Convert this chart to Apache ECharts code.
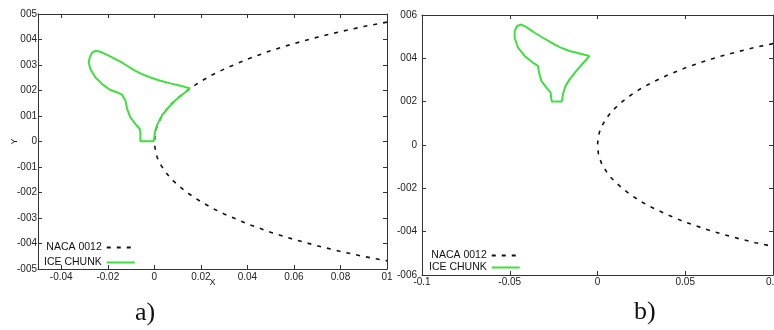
<!DOCTYPE html>
<html><head><meta charset="utf-8">
<script src="https://cdn.jsdelivr.net/npm/echarts@6/dist/echarts.min.js"></script>
<style>html,body{margin:0;padding:0;background:#fff}#c{width:774px;height:330px}</style>
</head><body><div id="c"></div>
<script>
// ---- data ----
const seriesNames = ['NACA 0012', 'ICE CHUNK'];
const panelLabels = ['a)', 'b)'];

// NACA 0012 leading-edge region (upper surface, trailing side -> nose)
const nacaUpperX = [0.1, 0.09, 0.08, 0.07, 0.06, 0.05, 0.04, 0.03, 0.025, 0.02, 0.015, 0.01, 0.0075, 0.005, 0.0025, 0.00125, 0.0005, 0];
const nacaUpperY = [0.0468, 0.0451, 0.0431, 0.0409, 0.0384, 0.0356, 0.0323, 0.0284, 0.0262, 0.0236, 0.0206, 0.0170, 0.0149, 0.0122, 0.0088, 0.0063, 0.0040, 0];
// lower surface, nose -> trailing side
const nacaLowerX = [0, 0.0005, 0.00125, 0.0025, 0.005, 0.0075, 0.01, 0.015, 0.02, 0.025, 0.03, 0.04, 0.05, 0.06, 0.07, 0.08, 0.09, 0.1];
const nacaLowerY = [0, -0.0040, -0.0063, -0.0088, -0.0122, -0.0149, -0.0170, -0.0206, -0.0236, -0.0262, -0.0284, -0.0323, -0.0356, -0.0384, -0.0409, -0.0431, -0.0451, -0.0468];

// ice chunk outline, panel a (attached)
const iceAX = [0.0154, 0.0112, 0.0069, 0.0026, -0.0017, -0.0053, -0.0089, -0.0117, -0.0146, -0.0175, -0.0203, -0.0232, -0.0253, -0.0267, -0.0278, -0.0282, -0.0275, -0.0253, -0.0224, -0.0189, -0.0160, -0.0139, -0.0124, -0.0117, -0.0103, -0.0082, -0.0063, -0.0060, -0.0060, -0.0031, -0.0003, 0.0000, 0.0004, 0.0014, 0.0033, 0.0061, 0.0097, 0.0133, 0.0154];
const iceAY = [0.0208, 0.0219, 0.0228, 0.0238, 0.0251, 0.0264, 0.0281, 0.0297, 0.0313, 0.0327, 0.0340, 0.0352, 0.0356, 0.0349, 0.0329, 0.0310, 0.0284, 0.0251, 0.0225, 0.0202, 0.0193, 0.0184, 0.0160, 0.0128, 0.0095, 0.0069, 0.0050, 0.0030, 0.0001, 0.0001, 0.0001, 0.0017, 0.0043, 0.0069, 0.0102, 0.0134, 0.0167, 0.0193, 0.0208];
// ice chunk outline, panel b (detached)
const iceBX = [-0.0045, -0.0102, -0.0159, -0.0216, -0.0263, -0.0311, -0.0358, -0.0405, -0.0434, -0.0458, -0.0472, -0.0472, -0.0453, -0.0415, -0.0368, -0.0339, -0.0333, -0.0320, -0.0291, -0.0267, -0.0263, -0.0260, -0.0203, -0.0197, -0.0182, -0.0159, -0.0121, -0.0084, -0.0045];
const iceBY = [0.0411, 0.0422, 0.0434, 0.0452, 0.0472, 0.0495, 0.0518, 0.0544, 0.0556, 0.0549, 0.0526, 0.0495, 0.0449, 0.0411, 0.0380, 0.0365, 0.0334, 0.0296, 0.0265, 0.0242, 0.0211, 0.0201, 0.0201, 0.0234, 0.0273, 0.0303, 0.0342, 0.0376, 0.0411];

// tick values and their printed labels
const xTicksA = [-0.04, -0.02, 0, 0.02, 0.04, 0.06, 0.08, 0.1];
const xTickLabelsA = ['-0.04', '-0.02', '0', '0.02', '0.04', '0.06', '0.08', '01'];
const yTicksA = [-0.05, -0.04, -0.03, -0.02, -0.01, 0, 0.01, 0.02, 0.03, 0.04, 0.05];
const yTickLabelsA = ['-005', '-004', '-003', '-002', '-001', '0', '001', '002', '003', '004', '005'];
const xTicksB = [-0.1, -0.05, 0, 0.05, 0.1];
const xTickLabelsB = ['-0.1', '-0.05', '0', '0.05', '0.1'];
const yTicksB = [-0.06, -0.04, -0.02, 0, 0.02, 0.04, 0.06];
const yTickLabelsB = ['-006', '-004', '-002', '0', '002', '004', '006'];

// ---- build ----
function pairs(xs, ys) { return xs.map((x, i) => [x, ys[i]]); }
function lookup(ticks, labels) {
  return function (v) {
    let best = -1, bd = 1e9;
    ticks.forEach((t, i) => { const d = Math.abs(t - v); if (d < bd) { bd = d; best = i; } });
    return bd < 1e-6 ? labels[best] : '';
  };
}
const FONT = 'Liberation Sans';
const AX = '#333';
const GREEN = '#3fdf3f';
function axis(o) {
  const base = {
    type: 'value', scale: false,
    axisLine: { show: true, onZero: false, lineStyle: { color: AX, width: 1 } },
    splitLine: { show: false },
    axisTick: { show: true, inside: true, length: 4, lineStyle: { color: AX, width: 1 } },
    axisLabel: { show: false },
    axisPointer: { show: false }
  };
  return Object.assign(base, o);
}
const nacaData = pairs(nacaUpperX, nacaUpperY).concat(pairs(nacaLowerX, nacaLowerY));
const lbl = (fmt, margin, extra) => Object.assign({ show: true, formatter: fmt, margin: margin, color: '#222', fontSize: 10, fontFamily: FONT, hideOverlap: false, showMinLabel: true, showMaxLabel: true }, extra || {});
const legendBase = { orient: 'vertical', align: 'right', itemWidth: 28, itemHeight: 10, padding: 0,
  selectedMode: false, data: seriesNames, itemStyle: { opacity: 0, borderWidth: 0 },
  textStyle: { fontSize: 10.5, fontFamily: FONT, color: '#111' } };

const option = {
  animation: false,
  backgroundColor: '#fff',
  grid: [
    { left: 38, top: 14, width: 349, height: 255, containLabel: false, outerBoundsMode: 'none', show: false },
    { left: 422, top: 15, width: 351, height: 260, containLabel: false, outerBoundsMode: 'none', show: false }
  ],
  xAxis: [
    axis({ gridIndex: 0, position: 'bottom', min: -0.05, max: 0.1,
      axisTick: { show: true, inside: true, length: 4, customValues: xTicksA, lineStyle: { color: AX } },
      axisLabel: lbl(lookup(xTicksA, xTickLabelsA), 3, { customValues: xTicksA }),
      name: 'X', nameLocation: 'middle', nameGap: 9, nameMoveOverlap: false,
      nameTextStyle: { fontSize: 9, fontFamily: FONT, color: '#222' } }),
    axis({ gridIndex: 0, position: 'top', min: -0.05, max: 0.1,
      axisTick: { show: true, inside: true, length: 4, customValues: xTicksA, lineStyle: { color: AX } } }),
    axis({ gridIndex: 1, position: 'bottom', min: -0.1, max: 0.1, interval: 0.05,
      axisLabel: lbl(lookup(xTicksB, xTickLabelsB), 2) }),
    axis({ gridIndex: 1, position: 'top', min: -0.1, max: 0.1, interval: 0.05 })
  ],
  yAxis: [
    axis({ gridIndex: 0, position: 'left', min: -0.05, max: 0.05, interval: 0.01,
      axisLabel: lbl(lookup(yTicksA, yTickLabelsA), 1),
      name: 'Y', nameLocation: 'middle', nameRotate: 90, nameGap: 19, nameMoveOverlap: false,
      nameTextStyle: { fontSize: 9, fontFamily: FONT, color: '#222' } }),
    axis({ gridIndex: 0, position: 'right', min: -0.05, max: 0.05, interval: 0.01 }),
    axis({ gridIndex: 1, position: 'left', min: -0.06, max: 0.06, interval: 0.02,
      axisLabel: lbl(lookup(yTicksB, yTickLabelsB), 5) }),
    axis({ gridIndex: 1, position: 'right', min: -0.06, max: 0.06, interval: 0.02 })
  ],
  legend: [
    Object.assign({}, legendBase, { left: 44, top: 242, itemGap: 4 }),
    Object.assign({}, legendBase, { left: 429, top: 250, itemGap: 1 })
  ],
  graphic: [
    { type: 'text', left: 135, top: 300, style: { text: panelLabels[0], font: '26px "Liberation Serif"', fill: '#111' } },
    { type: 'text', left: 634, top: 299, style: { text: panelLabels[1], font: '26px "Liberation Serif"', fill: '#111' } }
  ],
  series: [
    { name: seriesNames[0], type: 'line', xAxisIndex: 0, yAxisIndex: 0, data: nacaData, symbol: 'none', z: 2,
      lineStyle: { color: '#111', width: 1.6, type: [4, 6] }, itemStyle: { color: '#111' } },
    { name: seriesNames[1], type: 'line', xAxisIndex: 0, yAxisIndex: 0, data: pairs(iceAX, iceAY), symbol: 'none', z: 3,
      lineStyle: { color: GREEN, width: 2 }, itemStyle: { color: GREEN } },
    { name: seriesNames[0], type: 'line', xAxisIndex: 2, yAxisIndex: 2, data: nacaData, symbol: 'none', z: 2,
      lineStyle: { color: '#111', width: 1.6, type: [4, 6] }, itemStyle: { color: '#111' } },
    { name: seriesNames[1], type: 'line', xAxisIndex: 2, yAxisIndex: 2, data: pairs(iceBX, iceBY), symbol: 'none', z: 3,
      lineStyle: { color: GREEN, width: 2 }, itemStyle: { color: GREEN } }
  ]
};
const chart = echarts.init(document.getElementById('c'), null, { renderer: 'canvas' });
chart.setOption(option);
</script>
</body></html>
